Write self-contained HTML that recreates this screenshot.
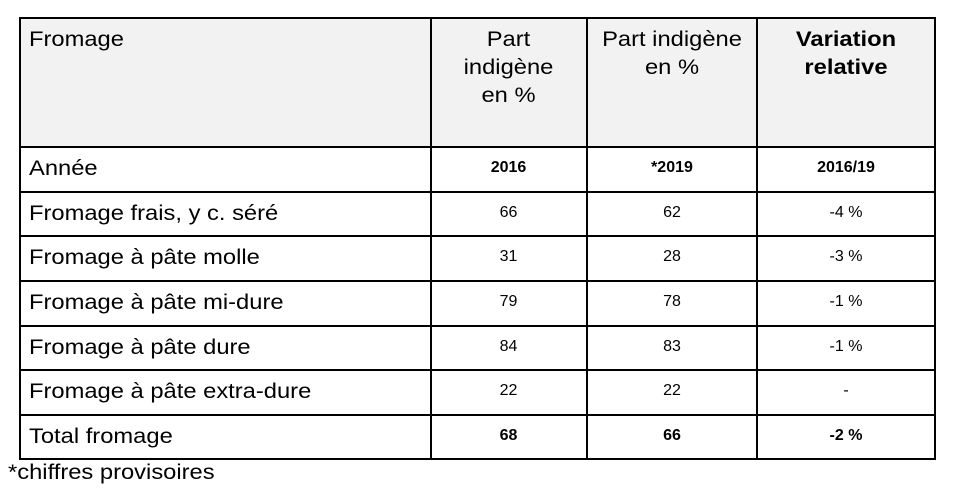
<!DOCTYPE html>
<html><head><meta charset="utf-8"><style>
body{margin:0;width:956px;height:498px;background:#fff;font-family:"Liberation Sans",Arial,sans-serif;color:#000;position:relative;overflow:hidden}
.c{position:absolute;box-sizing:border-box}
.h{background:#f2f2f2}
.v{position:absolute;background:#000;width:1.5px}
.hl{position:absolute;background:#000;height:1.5px}
.t{position:absolute;font-size:21px;line-height:28px;transform:scaleX(1.13);transform-origin:left top;white-space:nowrap}
.tc{transform-origin:center top}
.n{position:absolute;font-size:16px;text-align:center}
.b{font-weight:bold}
</style></head><body>
<div class="c h" style="left:20px;top:17px;width:915px;height:129px"></div>
<div class="v" style="left:19px;top:17px;height:442px"></div>
<div class="v" style="left:430px;top:17px;height:442px"></div>
<div class="v" style="left:586px;top:17px;height:442px"></div>
<div class="v" style="left:756px;top:17px;height:442px"></div>
<div class="v" style="left:934px;top:17px;height:442px"></div>
<div class="hl" style="left:19px;top:17px;width:917px"></div>
<div class="hl" style="left:19px;top:146px;width:917px"></div>
<div class="hl" style="left:19px;top:191px;width:917px"></div>
<div class="hl" style="left:19px;top:235px;width:917px"></div>
<div class="hl" style="left:19px;top:280px;width:917px"></div>
<div class="hl" style="left:19px;top:325px;width:917px"></div>
<div class="hl" style="left:19px;top:369px;width:917px"></div>
<div class="hl" style="left:19px;top:414px;width:917px"></div>
<div class="hl" style="left:19px;top:458px;width:917px"></div>

<div class="t" style="left:29px;top:26px">Fromage</div>
<div class="t tc" style="left:431px;width:155px;top:26px;text-align:center">Part<br>indigène<br>en %</div>
<div class="t tc" style="left:587px;width:170px;top:26px;text-align:center">Part indigène<br>en %</div>
<div class="t tc b" style="left:757px;width:178px;top:26px;text-align:center">Variation<br>relative</div>

<div id="rows"></div>
<div class="t" style="left:8px;top:459px">*chiffres provisoires</div>
<script>
const labels=["Année","Fromage frais, y c. séré","Fromage à pâte molle","Fromage à pâte mi-dure","Fromage à pâte dure","Fromage à pâte extra-dure","Total fromage"];
const v2016=["2016","66","31","79","84","22","68"];
const v2019=["*2019","62","28","78","83","22","66"];
const vrel=["2016/19","-4 %","-3 %","-1 %","-1 %","-","-2 %"];
const tops=[146,191,235,280,325,369,414];
const root=document.getElementById('rows');
labels.forEach((l,i)=>{
  const y=tops[i];
  const bold=(i===0||i===6);
  const a=document.createElement('div');a.className='t';
  
  
  a.style.left='29px';a.style.top=(y+9)+'px';a.textContent=l;root.appendChild(a);
  [[v2016[i],431,155],[v2019[i],587,170],[vrel[i],757,178]].forEach((c,j)=>{
    const d=document.createElement('div');d.className='n'+(bold?' b':'');
    
    
    d.style.left=c[1]+'px';d.style.width=c[2]+'px';d.style.top=(y+13)+'px';d.textContent=c[0];root.appendChild(d);
  });
});
</script>
</body></html>
